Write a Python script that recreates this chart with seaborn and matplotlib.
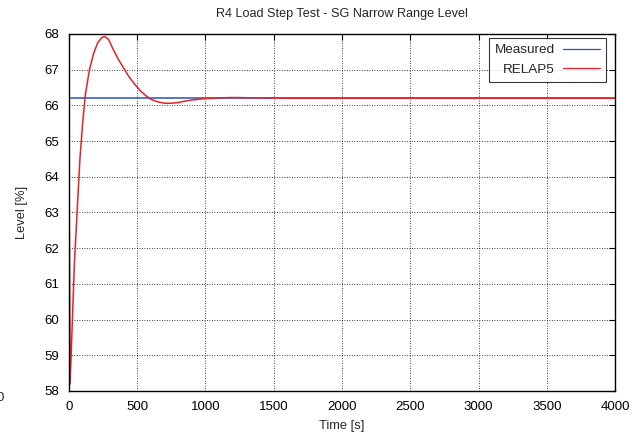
import matplotlib
matplotlib.use("Agg")
import matplotlib.pyplot as plt
import seaborn as sns
import pandas as pd

# Measured steam generator narrow range level (constant over the run)
measured_time = [0, 4000]
measured_level = [66.2, 66.2]

# RELAP5 calculated level after the load step
relap_time = [0, 8, 40, 80, 100, 120, 150, 180, 210, 240, 260, 290, 320, 360,
              400, 440, 480, 520, 560, 600, 650, 700, 750, 800, 850, 900,
              1000, 1100, 1200, 1400, 1600, 4000]
relap_level = [64.7, 58.2, 61.6, 64.5, 65.5, 66.3, 67.0, 67.45, 67.75, 67.9,
               67.93, 67.85, 67.6, 67.3, 67.05, 66.8, 66.6, 66.42, 66.28,
               66.17, 66.1, 66.06, 66.06, 66.08, 66.12, 66.15, 66.19, 66.21,
               66.22, 66.21, 66.2, 66.2]

x_ticks = [0, 500, 1000, 1500, 2000, 2500, 3000, 3500, 4000]
y_ticks = [58, 59, 60, 61, 62, 63, 64, 65, 66, 67, 68]

sns.set_style("white")
plt.rcParams["font.family"] = ["Liberation Sans", "DejaVu Sans"]

df_meas = pd.DataFrame({"Time": measured_time, "Level": measured_level})
df_relap = pd.DataFrame({"Time": relap_time, "Level": relap_level})

fig = plt.figure(figsize=(6.37, 4.34), dpi=100)
ax = fig.add_axes([0.1083, 0.0991, 0.8572, 0.8226])

sns.lineplot(data=df_meas, x="Time", y="Level", ax=ax, color="#2f4fb0",
             linewidth=1.1, label="Measured", sort=False)
sns.lineplot(data=df_relap, x="Time", y="Level", ax=ax, color="#e8202a",
             linewidth=1.1, label="RELAP5", sort=False)

ax.set_xlim(0, 4000)
ax.set_ylim(58, 68)
ax.set_xticks(x_ticks)
ax.set_yticks(y_ticks)
ax.tick_params(direction="in", length=4, width=0.8, top=True, right=True,
               labelsize=9.5, pad=7, colors="black")
ax.grid(True, color="black", linestyle=(0, (1, 2)), linewidth=0.6)
for s in ax.spines.values():
    s.set_color("black")
    s.set_linewidth(1.0)

ax.set_xlabel("Time [s]", fontsize=9.3, labelpad=5)
ax.set_ylabel("Level [%]", fontsize=9.3, labelpad=12)
ax.set_title("R4 Load Step Test - SG Narrow Range Level", fontsize=9.1, pad=12)

leg = ax.legend(loc="upper right", markerfirst=False, fontsize=9.7,
                frameon=True, fancybox=False, edgecolor="black",
                handlelength=2.75, handletextpad=0.6, labelspacing=0.5,
                borderpad=0.45, borderaxespad=0,
                bbox_to_anchor=(606 / 637, 1 - 38 / 434),
                bbox_transform=fig.transFigure)
leg.get_frame().set_linewidth(0.8)
for line in leg.get_lines():
    line.set_linewidth(0.9)
for t in leg.get_texts():
    t.set_ha("right")

fig.text(0.0, 1 - 398 / 434, "0", ha="center", va="center", fontsize=9.5)

fig.savefig("out.png", dpi=100)
